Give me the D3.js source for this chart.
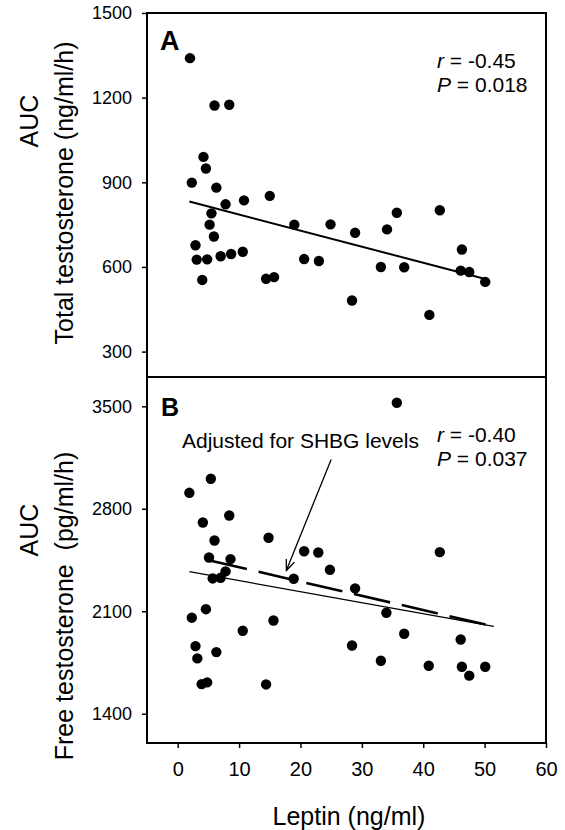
<!DOCTYPE html>
<html>
<head>
<meta charset="utf-8">
<script src="https://cdn.jsdelivr.net/npm/d3@7"></script>
<style>
  body { margin: 0; background: #fff; }
  svg text { font-family: "Liberation Sans", Arial, sans-serif; fill: #000; }
</style>
</head>
<body>
<svg id="chart" width="565" height="830"></svg>
<script>
// panel A: leptin vs total testosterone AUC
var leptinA = [2.0, 6.0, 8.4, 4.2, 4.6, 2.3, 6.3, 15.0, 7.8, 10.8, 5.5, 5.2, 5.9, 2.9, 3.1, 4.8, 7.0, 8.7, 10.6,
               4.0, 14.4, 15.7, 19.0, 20.6, 23.0, 24.9, 28.9, 28.4, 33.1, 34.1, 35.7, 36.9, 41.0, 42.7, 46.3, 46.1, 47.5, 50.1];
var totalT  = [1340, 1172, 1175, 990, 949, 899, 881, 852, 822, 836, 790, 750, 708, 677, 626, 627, 638, 646, 654,
               554, 558, 564, 750, 628, 621, 751, 721, 481, 600, 733, 792, 599, 430, 801, 662, 587, 582, 547];

// panel B: leptin vs free testosterone AUC
var leptinB = [35.7, 5.4, 1.9, 8.4, 4.1, 14.8, 6.0, 20.6, 22.9, 42.7, 5.1, 8.6, 24.8, 7.8, 5.7, 7.0, 18.9, 28.9,
               34.0, 4.6, 2.3, 15.6, 10.6, 36.9, 46.1, 2.9, 6.3, 28.4, 3.2, 33.1, 40.9, 46.3, 50.1, 47.5, 3.9, 4.8, 14.4];
var freeT   = [3524, 3005, 2909, 2754, 2706, 2602, 2583, 2510, 2501, 2504, 2467, 2456, 2383, 2372, 2324, 2329, 2322, 2256,
               2090, 2114, 2056, 2037, 1967, 1946, 1907, 1862, 1821, 1866, 1778, 1762, 1728, 1721, 1721, 1660, 1602, 1614, 1600];

// regression lines (end points)
var fitAx = [1.9, 49.8], fitAy = [832, 559];
var fitBx = [1.9, 51.5], fitBy = [2370, 1996];
var adjBx = [5.4, 51.5], adjBy = [2445, 1996];

var xTicks = [0, 10, 20, 30, 40, 50, 60];
var yTicksA = [300, 600, 900, 1200, 1500];
var yTicksB = [1400, 2100, 2800, 3500];

var svg = d3.select("#chart");
var pL = 147, pR = 546, pT = 13, pM = 377, pB = 743;

var x = d3.scaleLinear().domain([-5, 60]).range([pL, pR]);
var yA = d3.scaleLinear().domain([210, 1500]).range([pM, pT]);
var yB = d3.scaleLinear().domain([1200, 3700]).range([pB, pM]);

svg.append("rect").attr("width", 565).attr("height", 830).attr("fill", "#fff");

function yAxis(scale, ticks) {
    var g = svg.append("g")
        .attr("transform", "translate(" + pL + ",0)")
        .call(d3.axisLeft(scale).tickValues(ticks).tickFormat(d3.format("d"))
            .tickSize(5).tickPadding(10).tickSizeOuter(0));
    g.select(".domain").remove();
    g.selectAll("line").attr("stroke-width", 1.5);
    g.selectAll("text").attr("font-size", 18).style("font-family", "'Liberation Sans', Arial, sans-serif");
}
yAxis(yA, yTicksA);
yAxis(yB, yTicksB);

var gx = svg.append("g")
    .attr("transform", "translate(0," + pB + ")")
    .call(d3.axisBottom(x).tickValues(xTicks).tickSize(5).tickPadding(14).tickSizeOuter(0));
gx.select(".domain").remove();
gx.selectAll("line").attr("stroke-width", 1.5);
gx.selectAll("text").attr("font-size", 20).style("font-family", "'Liberation Sans', Arial, sans-serif");

// frames
svg.append("rect").attr("x", pL).attr("y", pT).attr("width", pR - pL).attr("height", pB - pT)
    .attr("fill", "none").attr("stroke", "#000").attr("stroke-width", 2);
svg.append("line").attr("x1", pL).attr("x2", pR).attr("y1", pM).attr("y2", pM)
    .attr("stroke", "#000").attr("stroke-width", 2);

// regression lines
var line = d3.line();
svg.append("path")
    .attr("d", line(fitAx.map(function (v, i) { return [x(v), yA(fitAy[i])]; })))
    .attr("stroke", "#000").attr("stroke-width", 2).attr("fill", "none");
svg.append("path")
    .attr("d", line(fitBx.map(function (v, i) { return [x(v), yB(fitBy[i])]; })))
    .attr("stroke", "#000").attr("stroke-width", 1.3).attr("fill", "none");
svg.append("path")
    .attr("d", line(adjBx.map(function (v, i) { return [x(v), yB(adjBy[i])]; })))
    .attr("stroke", "#000").attr("stroke-width", 2.6).attr("stroke-dasharray", "37,12").attr("fill", "none");

// points
svg.append("g").selectAll("circle")
    .data(leptinA).enter().append("circle")
    .attr("cx", function (d) { return x(d); })
    .attr("cy", function (d, i) { return yA(totalT[i]); })
    .attr("r", 5.2);
svg.append("g").selectAll("circle")
    .data(leptinB).enter().append("circle")
    .attr("cx", function (d) { return x(d); })
    .attr("cy", function (d, i) { return yB(freeT[i]); })
    .attr("r", 5.2);

// arrow
svg.append("defs").append("marker")
    .attr("id", "vhead").attr("viewBox", "0 0 12 10").attr("refX", 11).attr("refY", 5)
    .attr("markerWidth", 12).attr("markerHeight", 10).attr("markerUnits", "userSpaceOnUse")
    .attr("orient", "auto")
    .append("path").attr("d", "M0,0.5 L11,5 L0,9.5").attr("fill", "none").attr("stroke", "#000").attr("stroke-width", 1.3);
svg.append("line")
    .attr("x1", x(25.0)).attr("y1", yB(3137))
    .attr("x2", x(17.7)).attr("y2", yB(2378))
    .attr("stroke", "#000").attr("stroke-width", 1.3).attr("marker-end", "url(#vhead)");

// annotations
svg.append("text").attr("x", 160).attr("y", 50).attr("font-size", 27).attr("font-weight", "bold").text("A");
svg.append("text").attr("x", 161).attr("y", 416).attr("font-size", 25).attr("font-weight", "bold").text("B");

function stats(y1, rText, pText) {
    var t = svg.append("text").attr("x", 437).attr("y", y1).attr("font-size", 21);
    t.append("tspan").attr("font-style", "italic").text("r");
    t.append("tspan").text(" = " + rText);
    var t2 = svg.append("text").attr("x", 437).attr("y", y1 + 23.5).attr("font-size", 21);
    t2.append("tspan").attr("font-style", "italic").text("P");
    t2.append("tspan").text(" = " + pText);
}
stats(68, "-0.45", "0.018");
stats(442, "-0.40", "0.037");

svg.append("text").attr("x", 182).attr("y", 448).attr("font-size", 21).text("Adjusted for SHBG levels");

// axis titles
svg.append("text").attr("x", 349).attr("y", 825).attr("font-size", 25).attr("text-anchor", "middle").text("Leptin (ng/ml)");

svg.append("text").attr("transform", "translate(38,121) rotate(-90)")
    .attr("font-size", 25).attr("text-anchor", "middle").text("AUC");
svg.append("text").attr("transform", "translate(73,193) rotate(-90)")
    .attr("font-size", 25).attr("text-anchor", "middle").text("Total testosterone (ng/ml/h)");
svg.append("text").attr("transform", "translate(38,530) rotate(-90)")
    .attr("font-size", 25).attr("text-anchor", "middle").text("AUC");
svg.append("text").attr("transform", "translate(73,606) rotate(-90)")
    .attr("font-size", 25).attr("text-anchor", "middle").style("white-space", "pre").text("Free testosterone  (pg/ml/h)");
</script>
</body>
</html>
